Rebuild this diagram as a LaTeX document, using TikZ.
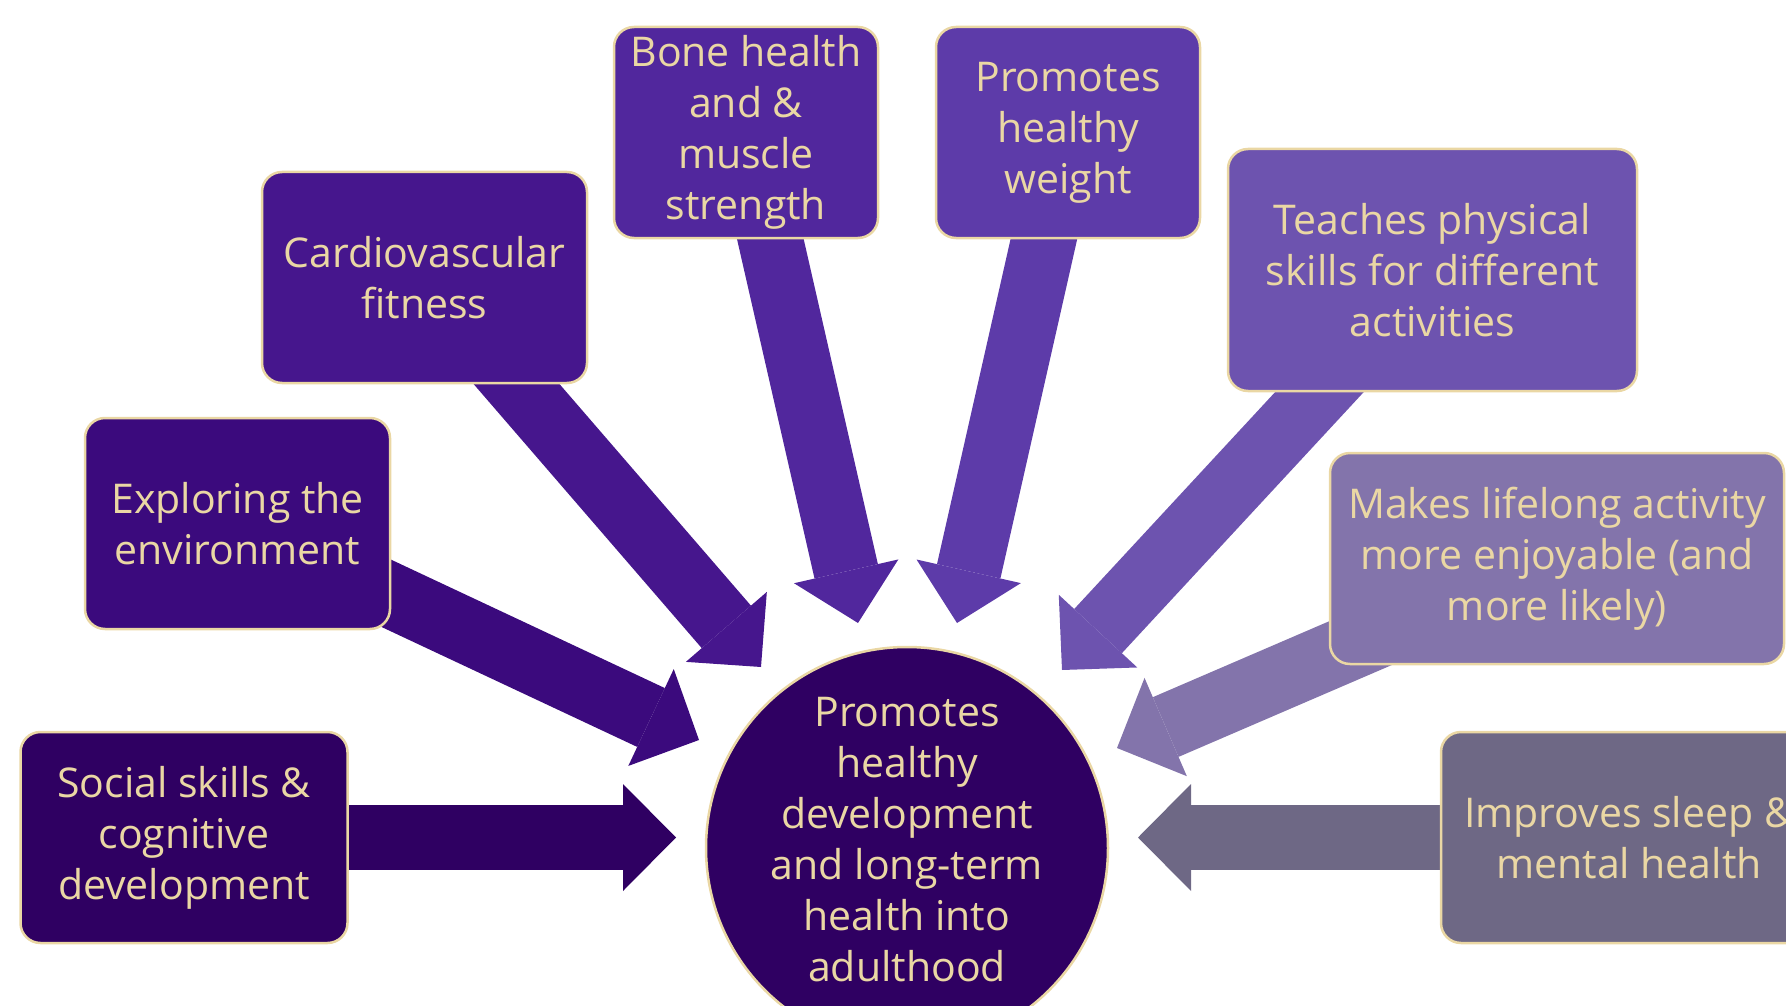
\documentclass[tikz,border=0pt]{standalone}
\usepackage{fontspec}
\setmainfont{Open Sans}
\usetikzlibrary{arrows.meta,positioning}
\definecolor{gold}{RGB}{234,215,164}
\definecolor{hubfill}{HTML}{2F0062}
\definecolor{purpA}{HTML}{2F0062}
\definecolor{purpB}{HTML}{3B0A7D}
\definecolor{purpC}{HTML}{46168D}
\definecolor{purpD}{HTML}{51279D}
\definecolor{purpE}{HTML}{5D3BA9}
\definecolor{purpF}{HTML}{6D53AF}
\definecolor{purpG}{HTML}{8374AB}
\definecolor{purpH}{HTML}{6E6885}

\pgfdeclarelayer{bg}
\pgfsetlayers{bg,main}

\tikzset{
  benefit/.style={draw=gold, line width=2.5pt, rounded corners=20pt, text=gold,
    align=center, minimum height=211pt, inner sep=0pt,
    font=\fontsize{41}{51}\selectfont},
  hub/.style={circle, draw=gold, fill=hubfill, line width=2.5pt,
    minimum size=402pt, inner sep=0pt},
  fatarrow/.style={line width=65pt,
    -{Triangle[length=53pt,width=107pt,line width=0pt]}},
}

\begin{document}
\begin{tikzpicture}[x=1pt,y=-1pt]
\useasboundingbox (0,0) rectangle (1786,1006);
\clip (0,0) rectangle (1786,1006);

% centre
\node[hub] (hub) at (907,848) {};
\node[text=gold, align=center, font=\fontsize{41}{51}\selectfont] (hubtext) at (907,840)
  {Promotes\\healthy\\development\\and long-term\\health into\\adulthood};

% benefits round the centre
\node[benefit, fill=purpA, minimum width=327pt] (social) at (184,837.5) {Social skills \&\\cognitive\\development};
\node[benefit, fill=purpB, minimum width=305pt] (explore) at (237.5,523.5) {Exploring the\\environment};
\node[benefit, fill=purpC, minimum width=325pt] (cardio) at (424.5,277.5) {Cardiovascular\\fitness};
\node[benefit, fill=purpD, minimum width=264pt] (bone) at (746,132.5) {Bone health\\and \&\\muscle\\strength};
\node[benefit, fill=purpE, minimum width=264pt] (weight) at (1068,132.5) {Promotes\\healthy\\weight};
\node[benefit, fill=purpF, minimum width=409pt, minimum height=242pt] (skills) at (1432.5,270) {Teaches physical\\skills for different\\activities};
\node[benefit, fill=purpG, minimum width=454pt] (enjoy) at (1557,558.5) {Makes lifelong activity\\more enjoyable (and\\more likely)};
\node[benefit, fill=purpH, minimum width=376pt] (sleep) at (1629,837.5) {Improves sleep \&\\mental health};

% arrow tips, all about 232 from the centre
\coordinate (t1) at (676,837.5);
\coordinate (t2) at (699,740);
\coordinate (t3) at (761,667);
\coordinate (t4) at (858,623);
\coordinate (t5) at (957,623);
\coordinate (t6) at (1062,670);
\coordinate (t7) at (1117,748);
\coordinate (t8) at (1138,837.5);

\begin{pgfonlayer}{bg}
\draw[fatarrow, purpA] (social.center) -- (t1);
\draw[fatarrow, purpB] (explore.center) -- (t2);
\draw[fatarrow, purpC] (cardio.center) -- (t3);
\draw[fatarrow, purpD] (bone.center) -- (t4);
\draw[fatarrow, purpE] (weight.center) -- (t5);
\draw[fatarrow, purpF] (skills.center) -- (t6);
\draw[fatarrow, purpG] (enjoy.center) -- (t7);
\draw[fatarrow, purpH] (sleep.center) -- (t8);
\end{pgfonlayer}
\end{tikzpicture}
\end{document}
